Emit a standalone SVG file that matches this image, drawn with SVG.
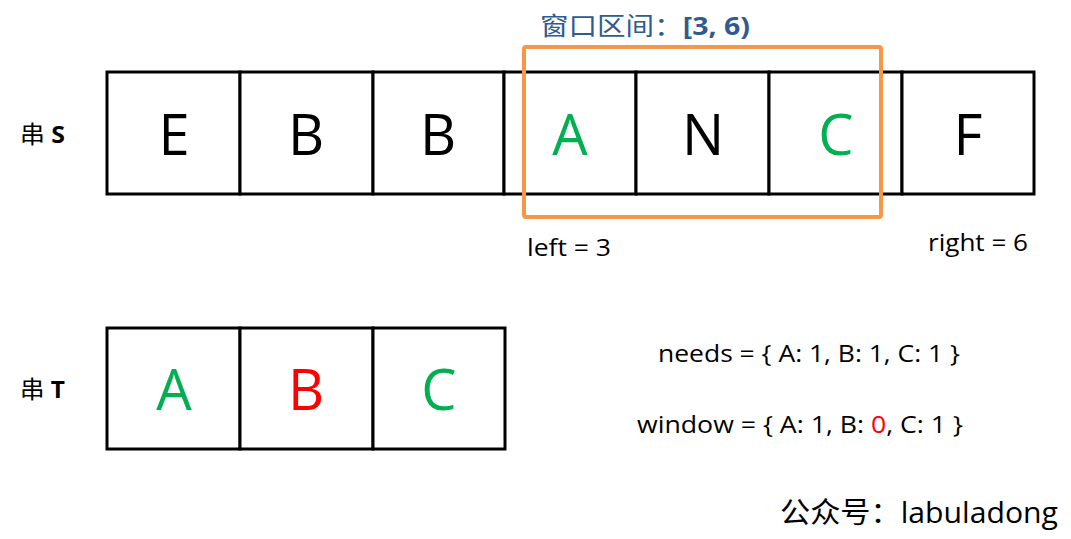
<svg xmlns="http://www.w3.org/2000/svg" width="1071" height="539" viewBox="0 0 1071 539">
<style>
.cell{fill:#fff;stroke:#000;stroke-width:3}
.big{font-family:"Open Sans","Liberation Sans",sans-serif;font-size:56px;text-anchor:middle}
.lbl{font-family:"Open Sans","Liberation Sans","Noto Sans CJK SC",sans-serif;font-size:24px;fill:#000}
.g{fill:#00B050}.r{fill:#FF0000}.k{fill:#000}
</style>
<rect width="1071" height="539" fill="#fff"/>
<g id="title"><text x="540" y="35" font-family="'Noto Sans CJK SC',sans-serif" font-size="25" fill="#2F5B8F" textLength="210" lengthAdjust="spacingAndGlyphs">窗口区间：<tspan font-family="'Open Sans','Liberation Sans',sans-serif" font-weight="bold">[3, 6)</tspan></text></g>
<g id="label-s"><text class="lbl" x="20" y="143" textLength="45" lengthAdjust="spacingAndGlyphs"><tspan font-family="'Noto Sans CJK SC',sans-serif">串</tspan> <tspan font-weight="bold">S</tspan></text></g>
<g id="string-s">
<rect class="cell" x="107" y="72" width="133" height="122"/>
<rect class="cell" x="240" y="72" width="133" height="122"/>
<rect class="cell" x="373" y="72" width="131" height="122"/>
<rect class="cell" x="504" y="72" width="132" height="122"/>
<rect class="cell" x="636" y="72" width="133" height="122"/>
<rect class="cell" x="769" y="72" width="133" height="122"/>
<rect class="cell" x="902" y="72" width="132" height="122"/>
<text class="big k" x="174" y="155">E</text>
<text class="big k" x="306" y="155">B</text>
<text class="big k" x="438" y="155">B</text>
<text class="big g" x="570" y="155">A</text>
<text class="big k" x="703" y="155">N</text>
<text class="big g" x="836" y="155">C</text>
<text class="big k" x="968" y="155">F</text>
</g>
<g id="window"><rect x="524" y="47" width="357" height="170" rx="2" fill="none" stroke="#F79646" stroke-width="4"/></g>
<g id="left"><text class="lbl" x="527" y="256" textLength="84" lengthAdjust="spacingAndGlyphs">left = 3</text></g>
<g id="right"><text class="lbl" x="928" y="251" textLength="100" lengthAdjust="spacingAndGlyphs">right = 6</text></g>
<g id="label-t"><text class="lbl" x="20" y="398" textLength="45" lengthAdjust="spacingAndGlyphs"><tspan font-family="'Noto Sans CJK SC',sans-serif">串</tspan> <tspan font-weight="bold">T</tspan></text></g>
<g id="string-t">
<rect class="cell" x="107" y="328" width="133" height="121"/>
<rect class="cell" x="240" y="328" width="133" height="121"/>
<rect class="cell" x="373" y="328" width="132" height="121"/>
<text class="big g" x="174" y="410">A</text>
<text class="big r" x="306" y="410">B</text>
<text class="big g" x="439" y="410">C</text>
</g>
<g id="needs"><text class="lbl" x="658" y="362" textLength="302" lengthAdjust="spacingAndGlyphs">needs = { A: 1, B: 1, C: 1 }</text></g>
<g id="window-map"><text class="lbl" x="637" y="433" textLength="326" lengthAdjust="spacingAndGlyphs">window = { A: 1, B: <tspan class="r">0</tspan>, C: 1 }</text></g>
<g id="credit"><text x="780" y="523" font-family="'Noto Sans CJK SC',sans-serif" font-size="29" fill="#000" textLength="278" lengthAdjust="spacingAndGlyphs">公众号：<tspan font-family="'Open Sans','Liberation Sans',sans-serif">labuladong</tspan></text></g>
</svg>
